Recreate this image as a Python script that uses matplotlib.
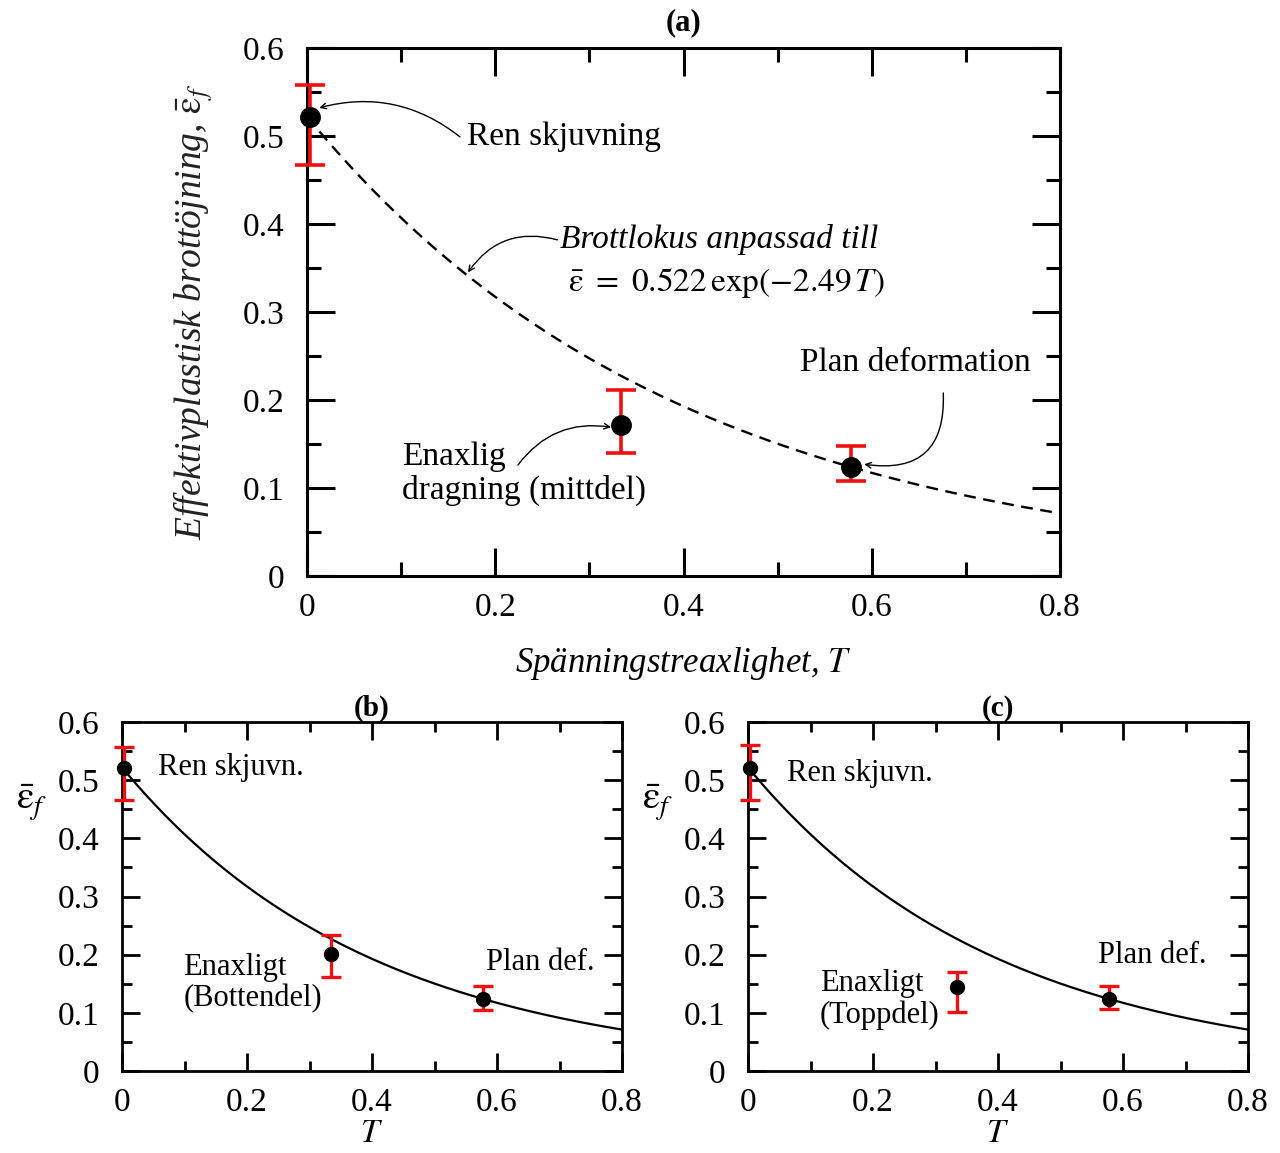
import numpy as np
from matplotlib import pyplot as plt
from matplotlib.ticker import MultipleLocator

plt.rcParams['font.family'] = 'serif'
plt.rcParams['font.serif'] = ['Liberation Serif', 'DejaVu Serif']
plt.rcParams['mathtext.fontset'] = 'stix'

# fitted fracture locus: eps_f = A * exp(-B * T)
A_FIT = 0.522
B_FIT = 2.49

# stress triaxiality of the three test types (shear, uniaxial, plane strain)
triax = [0.003, 0.334, 0.578]

# (a) mean fracture strain with lower / upper scatter
eps_a = [0.522, 0.172, 0.124]
low_a = [0.467, 0.140, 0.108]
high_a = [0.558, 0.211, 0.148]

# (b) uniaxial specimens from the bottom part
eps_b = [0.521, 0.201, 0.124]
low_b = [0.466, 0.162, 0.105]
high_b = [0.557, 0.234, 0.146]

# (c) uniaxial specimens from the top part
eps_c = [0.521, 0.144, 0.124]
low_c = [0.466, 0.101, 0.107]
high_c = [0.560, 0.170, 0.146]

W, H = 1280, 1153
fig = plt.figure(figsize=(W / 100, H / 100), dpi=100)

EPS = r'\bar{\mathrm{\varepsilon}}'


def px_axes(left, top, right, bottom):
    return fig.add_axes([left / W, 1 - bottom / H, (right - left) / W, (bottom - top) / H])


def style_axes(ax, tick_fs, major_len, minor_len, lw):
    ax.set_xlim(0, 0.8)
    ax.set_ylim(0, 0.6)
    ax.xaxis.set_major_locator(MultipleLocator(0.2))
    ax.xaxis.set_minor_locator(MultipleLocator(0.1))
    ax.yaxis.set_major_locator(MultipleLocator(0.1))
    ax.yaxis.set_minor_locator(MultipleLocator(0.05))
    ax.xaxis.set_major_formatter(lambda v, p: '0' if abs(v) < 1e-9 else f'{v:.1f}')
    ax.yaxis.set_major_formatter(lambda v, p: '0' if abs(v) < 1e-9 else f'{v:.1f}')
    ax.tick_params(which='both', direction='in', top=True, right=True, labelsize=tick_fs)
    ax.tick_params(which='major', length=major_len, width=lw)
    ax.tick_params(which='minor', length=minor_len, width=lw)
    ax.tick_params(axis='x', pad=12)
    ax.tick_params(axis='y', pad=16)
    for s in ax.spines.values():
        s.set_linewidth(lw)


def plot_points(ax, eps, low, high, ms, cap, elw):
    yerr = [np.subtract(eps, low), np.subtract(high, eps)]
    ax.errorbar(triax, eps, yerr=yerr, fmt='none', ecolor='#ee1111', elinewidth=elw,
                capsize=cap, capthick=elw, zorder=3, clip_on=False)
    ax.plot(triax, eps, 'o', color='black', markersize=ms, zorder=4, clip_on=False)


def curved_arrow(ax, start, end, rad):
    ax.annotate('', xy=end, xytext=start,
                arrowprops=dict(arrowstyle='->', color='black', lw=1.0,
                                shrinkA=0, shrinkB=0,
                                connectionstyle=f'arc3,rad={rad}'))


tt = np.linspace(0, 0.8, 200)

# ---- (a) ----
ax = px_axes(307, 48, 1060, 576)
style_axes(ax, 24, 20, 10, 2.2)
ax.plot(tt, A_FIT * np.exp(-B_FIT * tt), color='black', lw=1.7, dashes=(5.0, 3.2), zorder=2)
plot_points(ax, eps_a, low_a, high_a, 14, 11, 2.6)
ax.set_title('(a)', fontsize=22, fontweight='bold', pad=13)
ax.set_xlabel('Spänningstreaxlighet, $T$', fontsize=25, fontstyle='italic', labelpad=16)
ax.set_ylabel(f'Effektivplastisk brottöjning, ${EPS}_f$', fontsize=27,
              fontstyle='italic', labelpad=20, color='#222222')

ax.text(0.170, 0.499, 'Ren skjuvning', fontsize=24, va='center', ha='left')
curved_arrow(ax, (0.1625, 0.499), (0.013, 0.532), 0.25)

ax.text(0.269, 0.382, 'Brottlokus anpassad till', fontsize=24, fontstyle='italic',
        va='center', ha='left')
ax.text(0.277, 0.333, f'${EPS}\\ =\\ 0.522\\,\\mathrm{{exp}}(-2.49\\,T)$',
        fontsize=24, va='center', ha='left')
curved_arrow(ax, (0.266, 0.382), (0.171, 0.345), 0.35)

ax.text(0.524, 0.242, 'Plan deformation', fontsize=24, va='center', ha='left')
curved_arrow(ax, (0.676, 0.208), (0.592, 0.127), -0.6)

ax.text(0.101, 0.116, 'Enaxlig\ndragning (mittdel)', fontsize=24, va='center',
        ha='left', linespacing=1.1)
curved_arrow(ax, (0.224, 0.126), (0.323, 0.169), -0.3)

# ---- (b) and (c) ----
panels = [
    ('(b)', 122, eps_b, low_b, high_b, 'Enaxligt\n(Bottendel)',
     (0.058, 0.521), (0.098, 0.151), (0.582, 0.187)),
    ('(c)', 748, eps_c, low_c, high_c, 'Enaxligt\n(Toppdel)',
     (0.062, 0.512), (0.115, 0.123), (0.560, 0.199)),
]
for title, left, eps, low, high, uni_label, pos_shear, pos_uni, pos_plane in panels:
    ax = px_axes(left, 722, left + 500, 1071)
    style_axes(ax, 24, 13, 7, 2.0)
    ax.plot(tt, A_FIT * np.exp(-B_FIT * tt), color='black', lw=1.6, zorder=2)
    plot_points(ax, eps, low, high, 10, 7.5, 2.4)
    ax.set_title(title, fontsize=21, fontweight='bold', pad=2)
    ax.set_xlabel('$T$', fontsize=24, labelpad=0)
    ax.set_ylabel(f'${EPS}_f$', fontsize=28, rotation=0, va='center', ha='center')
    ax.yaxis.set_label_coords(-0.18, 0.77)
    ax.text(*pos_shear, 'Ren skjuvn.', fontsize=22, va='center', ha='left')
    ax.text(*pos_uni, uni_label, fontsize=22, va='center', ha='left', linespacing=1.1)
    ax.text(*pos_plane, 'Plan def.', fontsize=22, va='center', ha='left')

fig.savefig('out.png', dpi=100)
